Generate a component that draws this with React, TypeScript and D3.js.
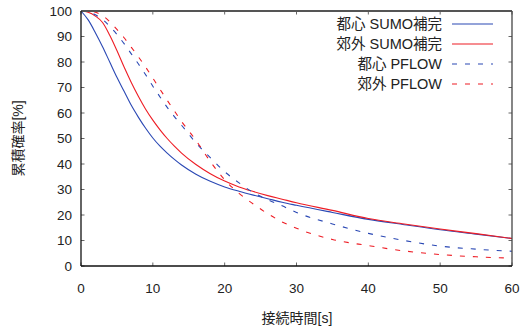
import * as d3 from 'd3';

// x values (s) shared by all series
const times = [0, 1, 2, 3, 4, 5, 6, 7, 8, 9, 10, 11, 12, 13, 14, 16, 18, 20, 22, 24, 26, 28, 30, 35, 40, 45, 50, 55, 60];

const urbanSumo = [100, 96.5, 91.5, 86, 80, 74, 68.5, 63, 58.3, 54, 50.2, 47, 44.3, 41.8, 39.6, 36, 33.2, 31, 29.3, 27.8, 26.4, 25, 23.8, 21, 18.3, 16.2, 14.2, 12.5, 10.8];
const suburbSumo = [100, 99.5, 98, 95.5, 90.5, 84.5, 78, 72, 66.5, 61.5, 57.2, 53.4, 50, 47, 44.3, 39.8, 36.2, 33.3, 31, 29.2, 27.6, 26.2, 24.8, 21.8, 18.6, 16.5, 14.5, 12.7, 10.8];
const urbanPflow = [100, 99.8, 98.5, 96.7, 94, 90.8, 87.2, 83.2, 79.2, 75, 70.5, 66.3, 62.2, 58.6, 55.2, 48.3, 42.5, 37, 32.6, 28.8, 26, 23.6, 21, 16.5, 12.8, 10, 7.8, 6.6, 5.8];
const suburbPflow = [100, 100, 99.5, 98.2, 95.8, 92.8, 89.5, 85.8, 82, 78, 73.7, 69.3, 65, 60.8, 56.7, 49.3, 41, 33.8, 28.5, 24.3, 20.5, 17.3, 14.8, 10.4, 8, 5.9, 4.5, 3.6, 3.1];

const xTicks = [0, 10, 20, 30, 40, 50, 60];
const yTicks = [0, 10, 20, 30, 40, 50, 60, 70, 80, 90, 100];

const BLUE = '#2a48b4';
const RED = '#ee1c24';

const series = [
  { name: '都心 SUMO補完', values: urbanSumo, color: BLUE, dash: null },
  { name: '郊外 SUMO補完', values: suburbSumo, color: RED, dash: null },
  { name: '都心 PFLOW', values: urbanPflow, color: BLUE, dash: '5,8' },
  { name: '郊外 PFLOW', values: suburbPflow, color: RED, dash: '5,8' },
];

const W = 522;
const H = 331;
const left = 81, right = 512, top = 11, bottom = 266;
const font = '"Liberation Sans", Arial, "Noto Sans CJK JP", sans-serif';

export default function App() {
  const x = d3.scaleLinear().domain([0, 60]).range([left, right]);
  const y = d3.scaleLinear().domain([0, 100]).range([bottom, top]);

  const line = d3.line<number>()
    .x((_, i) => x(times[i]))
    .y(d => y(d))
    .curve(d3.curveMonotoneX);

  return (
    <div style={{ position: 'absolute', left: 0, top: 0 }}>
      <svg width={W} height={H} style={{ display: 'block', background: '#fff' }} fontFamily={font}>
        {/* ticks */}
        {xTicks.map(t => (
          <g key={'x' + t}>
            <line x1={x(t)} x2={x(t)} y1={bottom} y2={bottom - 3.5} stroke="#666" />
            <line x1={x(t)} x2={x(t)} y1={top} y2={top + 3.5} stroke="#666" />
            <text x={x(t)} y={288} textAnchor="middle" dominantBaseline="central" fontSize={13.5} fill="#222">{t}</text>
          </g>
        ))}
        {yTicks.map(t => (
          <g key={'y' + t}>
            <line x1={left} x2={left + 3.5} y1={y(t)} y2={y(t)} stroke="#666" />
            <line x1={right} x2={right - 3.5} y1={y(t)} y2={y(t)} stroke="#666" />
            <text x={72} y={y(t)} textAnchor="end" dominantBaseline="central" fontSize={13.5} fill="#222">{t}</text>
          </g>
        ))}

        {/* series */}
        {series.map(s => (
          <path key={s.name} d={line(s.values) ?? ''} fill="none" stroke={s.color} strokeWidth={1.1}
            strokeDasharray={s.dash ?? undefined} />
        ))}

        {/* border */}
        <line x1={left} x2={right} y1={top} y2={top} stroke="#555" strokeWidth={2} />
        <line x1={right} x2={right} y1={top} y2={bottom} stroke="#444" strokeWidth={1.3} />
        <line x1={left} x2={left} y1={top} y2={bottom} stroke="#111" strokeWidth={1.3} />
        <line x1={left} x2={right} y1={bottom} y2={bottom} stroke="#111" strokeWidth={1.3} />

        {/* legend */}
        {series.map((s, i) => (
          <g key={'lg' + s.name}>
            <text x={442} y={24 + i * 20} textAnchor="end" dominantBaseline="central" fontSize={14.5} fill="#222">{s.name}</text>
            <line x1={452} x2={493} y1={24 + i * 20} y2={24 + i * 20} stroke={s.color} strokeWidth={1.1}
              strokeDasharray={s.dash ?? undefined} />
          </g>
        ))}

        {/* axis titles */}
        <text x={297} y={318} textAnchor="middle" dominantBaseline="central" fontSize={14} fill="#222">接続時間[s]</text>
        <text transform={`translate(18,${(top + bottom) / 2}) rotate(-90)`} textAnchor="middle" dominantBaseline="central"
          fontSize={14} fill="#222">累積確率[%]</text>
      </svg>
    </div>
  );
}
